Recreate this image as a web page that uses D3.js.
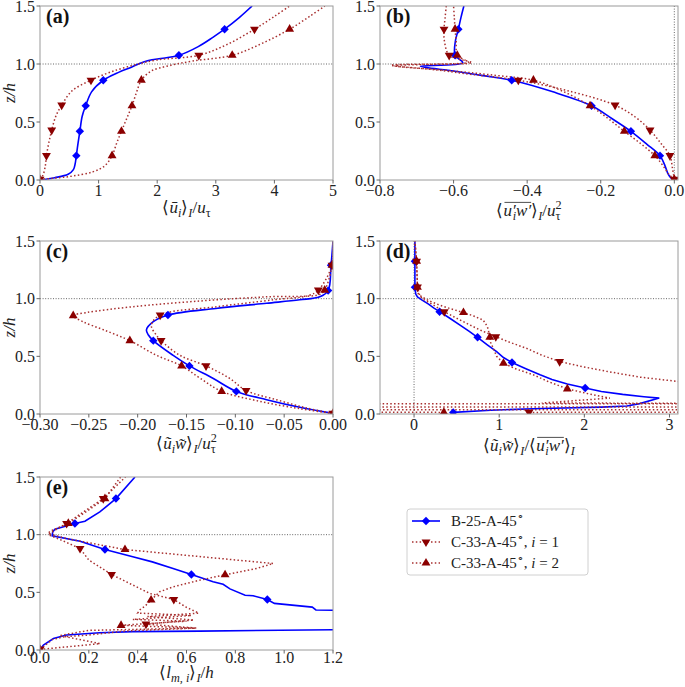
<!DOCTYPE html>
<html><head><meta charset="utf-8">
<script src="https://cdn.jsdelivr.net/npm/d3@7"></script>
<style>
body{margin:0;background:#fff}
svg{display:block}
</style>
</head><body>
<svg id="chart" width="685" height="687"></svg>
<script>
// ---------------- DATA ([x, z/h, marker?]) ----------------
const aBlue = [[0,0],[0.25,0.02],[0.48,0.05],[0.57,0.09],[0.60,0.14],[0.62,0.21,1],[0.65,0.32],[0.68,0.42,1],[0.72,0.55],[0.78,0.64,1],[0.88,0.76],[1.08,0.86,1],[1.35,0.93],[1.55,0.97],[1.68,1.0],[1.85,1.03],[2.1,1.05],[2.37,1.075,1],[2.7,1.15],[2.95,1.23],[3.15,1.30,1],[3.4,1.4],[3.62,1.5]];
const aRed1 = [[0,0.005,1],[0.05,0.04],[0.09,0.12],[0.11,0.21,1],[0.15,0.32],[0.2,0.43,1],[0.27,0.55],[0.37,0.645,1],[0.55,0.77],[0.87,0.86,1],[1.2,0.93],[1.6,0.99],[2.0,1.035],[2.71,1.075,1],[3.2,1.17],[3.66,1.30,1],[4.0,1.41],[4.26,1.5]];
const aRed2 = [[0,0.005,1],[0.5,0.03],[0.9,0.07],[1.1,0.12],[1.23,0.21,1],[1.31,0.32],[1.39,0.42,1],[1.48,0.53],[1.57,0.64,1],[1.65,0.76],[1.73,0.86,1],[1.9,0.94],[2.2,0.985],[2.6,1.025],[3.28,1.075,1],[3.8,1.18],[4.26,1.30,1],[4.6,1.41],[4.86,1.5]];

const bBlue = [[0,0],[-0.01,0.02],[-0.018,0.06],[-0.025,0.12],[-0.039,0.21,1],[-0.075,0.31],[-0.118,0.42,1],[-0.17,0.53],[-0.225,0.64,1],[-0.33,0.76],[-0.442,0.86,1],[-0.52,0.9],[-0.6,0.94],[-0.69,0.98],[-0.575,1.01],[-0.596,1.075,1],[-0.595,1.2],[-0.587,1.30,1],[-0.58,1.4],[-0.572,1.5]];
const bRed1 = [[0,0.005,1],[-0.005,0.1],[-0.012,0.21,1],[-0.035,0.31],[-0.066,0.43,1],[-0.105,0.54],[-0.161,0.645,1],[-0.29,0.77],[-0.424,0.86,1],[-0.55,0.91],[-0.65,0.95],[-0.76,0.985],[-0.55,1.012],[-0.575,1.035],[-0.612,1.075,1],[-0.625,1.2],[-0.626,1.3,1],[-0.623,1.4],[-0.62,1.5]];
const bRed2 = [[0,0.005,1],[-0.015,0.05],[-0.03,0.12],[-0.053,0.21,1],[-0.09,0.31],[-0.136,0.42,1],[-0.18,0.53],[-0.229,0.64,1],[-0.3,0.76],[-0.383,0.86,1],[-0.48,0.9],[-0.6,0.94],[-0.77,0.99],[-0.56,1.015],[-0.57,1.035],[-0.59,1.075,1],[-0.593,1.2],[-0.596,1.3,1],[-0.598,1.4],[-0.6,1.5]];

const cBlue = [[0,0.005],[-0.034,0.058],[-0.068,0.124],[-0.099,0.196,1],[-0.123,0.31],[-0.147,0.417,1],[-0.164,0.51],[-0.184,0.636,1],[-0.189,0.685],[-0.191,0.73],[-0.184,0.80],[-0.169,0.858,1],[-0.12,0.915],[-0.068,0.96],[-0.034,0.99],[-0.0136,1.016],[-0.005,1.07,1],[-0.002,1.29,1],[0,1.5]];
const cRed1 = [[0,0.005,1],[-0.027,0.052],[-0.058,0.124],[-0.089,0.204,1],[-0.106,0.31],[-0.13,0.417,1],[-0.157,0.51],[-0.176,0.636,1],[-0.181,0.685],[-0.186,0.77],[-0.177,0.858,1],[-0.119,0.93],[-0.061,0.99],[-0.024,1.03],[-0.015,1.074,1],[-0.001,1.29,1],[0,1.5]];
const cRed2 = [[0,0.005,1],[-0.034,0.046],[-0.075,0.11],[-0.114,0.196,1],[-0.136,0.31],[-0.155,0.417,1],[-0.181,0.51],[-0.208,0.636,1],[-0.235,0.73],[-0.256,0.80],[-0.266,0.852,1],[-0.252,0.88],[-0.205,0.93],[-0.136,0.98],[-0.068,1.016],[-0.0136,1.037],[-0.0085,1.074,1],[-0.001,1.29,1],[0,1.5]];

const dBlue = [[0.46,0.014,1],[0.9,0.033],[1.5,0.048],[2.2,0.06],[2.5,0.07],[2.65,0.09],[2.88,0.138],[2.7,0.15],[2.45,0.17],[2.2,0.195],[2.01,0.225,1],[1.8,0.26],[1.62,0.3],[1.48,0.34],[1.32,0.39],[1.15,0.446,1],[1.05,0.49],[0.97,0.54],[0.86,0.6],[0.746,0.665,1],[0.64,0.72],[0.54,0.77],[0.42,0.83],[0.30,0.887,1],[0.23,0.92],[0.17,0.953],[0.09,0.99],[0.04,1.016],[0.02,1.04],[0.01,1.10,1],[0.01,1.325,1],[0.01,1.5]];
const dRed1 = [[1.35,0.014,1],[40,0.036],[-40,0.037],[-40,0.088],[40,0.089],[6,0.2],[3.12,0.28],[2.65,0.32],[2.26,0.37],[1.95,0.415],[1.71,0.455,1],[1.5,0.51],[1.32,0.57],[1.13,0.62],[0.96,0.67,1],[0.8,0.72],[0.66,0.77],[0.5,0.83],[0.355,0.887,1],[0.23,0.944],[0.12,0.99],[0.07,1.02],[0.04,1.10,1],[0.03,1.325,1],[0.01,1.5]];
const dRed2 = [[0.35,0.014,1],[-40,0.06],[40,0.061],[1.5,0.095],[2.3,0.138],[2.05,0.175],[1.80,0.218,1],[1.58,0.28],[1.40,0.34],[1.2,0.39],[1.05,0.44,1],[0.97,0.5],[0.93,0.57],[0.9,0.62],[0.89,0.665,1],[0.88,0.7],[0.87,0.74],[0.84,0.785],[0.81,0.815],[0.7,0.85],[0.58,0.88,1],[0.44,0.91],[0.30,0.944],[0.18,0.98],[0.09,1.016],[0.05,1.04],[0.04,1.10,1],[0.03,1.325,1],[0.01,1.5]];

const eBlue = [[0,0],[0.014,0.043],[0.055,0.1],[0.109,0.13],[0.245,0.15],[0.38,0.159],[0.654,0.164],[1.2,0.175],[1.5,0.18],[1.5,0.3],[1.2,0.345],[1.13,0.347],[1.115,0.372],[0.96,0.404],[0.931,0.438,1],[0.873,0.47],[0.84,0.475],[0.778,0.53],[0.75,0.57],[0.709,0.591],[0.62,0.655,1],[0.545,0.707],[0.46,0.764],[0.38,0.808],[0.266,0.871,1],[0.164,0.943],[0.05,0.99],[0.052,1.024],[0.061,1.047],[0.143,1.097,1],[0.184,1.116],[0.245,1.197],[0.311,1.313,1],[0.389,1.5]];
const eRed1 = [[0,0.005,1],[0.246,0.055],[0.08,0.125],[0.2,0.17],[0.64,0.19],[0.434,0.225,1],[0.63,0.26],[0.44,0.29],[0.65,0.32],[0.6,0.37],[0.548,0.438,1],[0.45,0.49],[0.293,0.655,1],[0.2,0.78],[0.164,0.88,1],[0.08,0.96],[0.034,1.0],[0.07,1.05],[0.109,1.097,1],[0.18,1.2],[0.259,1.313,1],[0.35,1.5]];
const eRed2 = [[0,0.005,1],[0.05,0.09],[0.1,0.115],[0.2,0.13],[0.35,0.165],[0.64,0.19],[0.332,0.214,1],[0.6,0.25],[0.38,0.265],[0.62,0.3],[0.4,0.32],[0.41,0.35],[0.43,0.38],[0.455,0.433,1],[0.49,0.505],[0.546,0.548],[0.655,0.606],[0.758,0.652,1],[0.887,0.707],[0.955,0.75],[0.348,0.871,1],[0.109,0.966],[0.034,1.01],[0.041,1.03],[0.116,1.097,1],[0.19,1.2],[0.266,1.313,1],[0.33,1.5]];

// ticks
const zTicks = [0, 0.5, 1.0, 1.5];
const zTickLabels = ["0.0","0.5","1.0","1.5"];
const aXTicks = [0,1,2,3,4,5], aXLabels = ["0","1","2","3","4","5"];
const bXTicks = [-0.8,-0.6,-0.4,-0.2,0.0], bXLabels = ["\u22120.8","\u22120.6","\u22120.4","\u22120.2","0.0"];
const cXTicks = [-0.30,-0.25,-0.20,-0.15,-0.10,-0.05,0.00], cXLabels = ["\u22120.30","\u22120.25","\u22120.20","\u22120.15","\u22120.10","\u22120.05","0.00"];
const dXTicks = [0,1,2,3], dXLabels = ["0","1","2","3"];
const eXTicks = [0,0.2,0.4,0.6,0.8,1.0,1.2], eXLabels = ["0.0","0.2","0.4","0.6","0.8","1.0","1.2"];

const seriesNames = ["B-25-A-45", "C-33-A-45", "C-33-A-45"];

// ---------------- STYLE ----------------
const FONT = '"Liberation Serif"';
const BLUE = "#0000ff", REDLINE = "#a83030", REDMARK = "#8b0000";
const TICKFS = 16, LABFS = 17;
const svg = d3.select("#chart");
const defs = svg.append("defs");

const panels = [
  {id:"a", L:40, R:333, T:6, B:180, xd:[0,5], xt:aXTicks, xl:aXLabels, data:[aBlue,aRed1,aRed2], ylab:true, vzero:false, curve:"cr",
   lab:[{t:"\u27E8"},{t:"\u016B",it:1},{t:"i",it:1,sub:1},{t:"\u27E9"},{t:"I",it:1,sub:1},{t:"/"},{t:"u",it:1},{t:"\u03C4",sub:1}], labDy:33, tickDy:16},
  {id:"b", L:380, R:678, T:6, B:180, xd:[-0.8,0.01], xt:bXTicks, xl:bXLabels, data:[bBlue,bRed1,bRed2], ylab:false, vzero:true, curve:"cr",
   lab:[{t:"\u27E8"},{t:"u\u2032",it:1,ov:1},{t:"i",it:1,sub:1,ov:1,dx:-3},{t:"w\u2032",it:1,ov:1},{t:"\u27E9"},{t:"I",it:1,sub:1},{t:"/"},{t:"u",it:1},{t:"\u03C4",sub:1},{t:"2",sup:1,dx:-5}], labDy:36, tickDy:16},
  {id:"c", L:40, R:333, T:241, B:414, xd:[-0.30,0.0], xt:cXTicks, xl:cXLabels, data:[cBlue,cRed1,cRed2], ylab:true, vzero:false, curve:"cr",
   lab:[{t:"\u27E8"},{t:"\u0169",it:1},{t:"i",it:1,sub:1},{t:"w\u0303",it:1},{t:"\u27E9"},{t:"I",it:1,sub:1},{t:"/"},{t:"u",it:1},{t:"\u03C4",sub:1},{t:"2",sup:1,dx:-5}], labDy:35, tickDy:16},
  {id:"d", L:380, R:678, T:241, B:414, xd:[-0.4,3.1], xt:dXTicks, xl:dXLabels, data:[dBlue,dRed1,dRed2], ylab:false, vzero:true, curve:"lin",
   lab:[{t:"\u27E8"},{t:"\u0169",it:1},{t:"i",it:1,sub:1},{t:"w\u0303",it:1},{t:"\u27E9"},{t:"I",it:1,sub:1},{t:"/\u27E8"},{t:"u\u2032",it:1,ov:1},{t:"i",it:1,sub:1,ov:1,dx:-3},{t:"w\u2032",it:1,ov:1},{t:"\u27E9"},{t:"I",it:1,sub:1}], labDy:37, tickDy:16},
  {id:"e", L:40, R:333, T:477, B:650, xd:[0,1.2], xt:eXTicks, xl:eXLabels, data:[eBlue,eRed1,eRed2], ylab:true, vzero:false, curve:"lin",
   lab:[{t:"\u27E8"},{t:"l",it:1},{t:"m, i",it:1,sub:1},{t:"\u27E9"},{t:"I",it:1,sub:1},{t:"/"},{t:"h",it:1}], labDy:28, tickDy:13}
];

function mathText(g, x, y, segs, fs, anchor){
  const t = g.append("text").attr("x",x).attr("y",y).attr("text-anchor",anchor||"middle")
    .style("font-family",FONT).attr("font-size",fs).attr("fill","#222");
  let cur = 0, idx = 0; const ov = [];
  segs.forEach(s=>{
    const small = s.sub || s.sup;
    const sz = small ? fs*0.72 : fs;
    const target = s.sub ? fs*0.25 : s.sup ? -fs*0.4 : 0;
    const ts = t.append("tspan").text(s.t).attr("font-size",sz).attr("dy",target-cur).style("font-family",FONT);
    if (s.dx) ts.attr("dx",s.dx);
    if (s.it) ts.style("font-style","italic");
    cur = target;
    if (s.ov) for (let k=0;k<s.t.length;k++) ov.push(idx+k);
    idx += s.t.length;
  });
  if (ov.length){
    let mn=1e9, mx=-1e9;
    ov.forEach(i=>{ const e=t.node().getExtentOfChar(i); mn=Math.min(mn,e.x); mx=Math.max(mx,e.x+e.width); });
    g.append("line").attr("x1",mn+1).attr("x2",mx).attr("y1",y-fs*0.8).attr("y2",y-fs*0.8)
      .attr("stroke","#222").attr("stroke-width",0.8);
  }
  return t;
}

function drawMarkers(g, pts, x, y, kind){
  const m = pts.filter(d=>d[2]);
  if (kind===0){
    const s = 4.2;
    g.selectAll(null).data(m).enter().append("path")
      .attr("d", d=>{const cx=x(d[0]), cy=y(d[1]); return `M${cx},${cy-s}L${cx+s},${cy}L${cx},${cy+s}L${cx-s},${cy}Z`;})
      .attr("fill",BLUE);
  } else {
    const sym = d3.symbol(d3.symbolTriangle, 34);
    g.selectAll(null).data(m).enter().append("path")
      .attr("d", sym)
      .attr("transform", d=>`translate(${x(d[0])},${y(d[1])})` + (kind===1 ? " rotate(180)" : ""))
      .attr("fill",REDMARK);
  }
}

panels.forEach(p=>{
  const x = d3.scaleLinear().domain(p.xd).range([p.L,p.R]);
  const y = d3.scaleLinear().domain([0,1.5]).range([p.B,p.T]);
  const g = svg.append("g");
  defs.append("clipPath").attr("id","clip"+p.id).append("rect")
    .attr("x",p.L).attr("y",p.T).attr("width",p.R-p.L).attr("height",p.B-p.T);

  const ref = g.append("g").attr("clip-path",`url(#clip${p.id})`);
  ref.append("line").attr("x1",p.L).attr("x2",p.R).attr("y1",y(1)).attr("y2",y(1))
    .attr("stroke","#555").attr("stroke-width",0.9).attr("stroke-dasharray","1,1.6");
  if (p.vzero) ref.append("line").attr("x1",x(0)).attr("x2",x(0)).attr("y1",p.T).attr("y2",p.B)
    .attr("stroke","#555").attr("stroke-width",0.9).attr("stroke-dasharray","1,1.6");

  const plot = g.append("g").attr("clip-path",`url(#clip${p.id})`);
  const line = d3.line().x(d=>x(d[0])).y(d=>y(d[1]))
    .curve(p.curve==="cr" ? d3.curveCatmullRom.alpha(0.5) : d3.curveLinear);
  p.data.forEach((s,i)=>{
    plot.append("path").datum(s).attr("d",line).attr("fill","none")
      .attr("stroke", i===0 ? BLUE : REDLINE)
      .attr("stroke-width", i===0 ? 1.6 : 1.5)
      .attr("stroke-dasharray", i===0 ? null : "1.5,2.3");
  });
  p.data.forEach((s,i)=> drawMarkers(plot, s, x, y, i));

  g.append("rect").attr("x",p.L).attr("y",p.T).attr("width",p.R-p.L).attr("height",p.B-p.T)
    .attr("fill","none").attr("stroke","#9a9a9a").attr("stroke-width",1);

  p.xt.forEach((v,i)=>{
    g.append("line").attr("x1",x(v)).attr("x2",x(v)).attr("y1",p.B).attr("y2",p.B+3.5).attr("stroke","#666");
    g.append("text").attr("x",x(v)).attr("y",p.B+p.tickDy).attr("text-anchor","middle")
      .style("font-family",FONT).attr("font-size",TICKFS).attr("fill","#222").text(p.xl[i]);
  });
  zTicks.forEach((v,i)=>{
    g.append("line").attr("x1",p.L-3.5).attr("x2",p.L).attr("y1",y(v)).attr("y2",y(v)).attr("stroke","#666");
    g.append("text").attr("x",p.L-5).attr("y",y(v)+5.5).attr("text-anchor","end")
      .style("font-family",FONT).attr("font-size",TICKFS).attr("fill","#222").text(zTickLabels[i]);
  });

  g.append("text").attr("x",p.L+6).attr("y",p.T+17).style("font-family",FONT).attr("font-size",20).attr("font-weight","bold")
    .attr("fill","#111").text(`(${p.id})`);

  mathText(g, (p.L+p.R)/2, p.B+p.labDy, p.lab, LABFS);
  if (p.ylab){
    g.append("text").attr("transform",`translate(15,${(p.T+p.B)/2}) rotate(-90)`)
      .attr("text-anchor","middle").style("font-family",FONT).attr("font-size",LABFS).style("font-style","italic").attr("fill","#222").text("z/h");
  }
});

// ---------------- LEGEND ----------------
const lg = svg.append("g");
lg.append("rect").attr("x",407).attr("y",509).attr("width",181).attr("height",66).attr("rx",3)
  .attr("fill","#fff").attr("stroke","#d0d0d0");
const rows = [521, 542, 563];
const legLabels = [
  [{t:seriesNames[0]},{t:"\u2218",sup:1}],
  [{t:seriesNames[1]},{t:"\u2218",sup:1},{t:", "},{t:"i",it:1},{t:" = 1"}],
  [{t:seriesNames[2]},{t:"\u2218",sup:1},{t:", "},{t:"i",it:1},{t:" = 2"}]
];
rows.forEach((ry,i)=>{
  lg.append("line").attr("x1",412).attr("x2",440).attr("y1",ry).attr("y2",ry)
    .attr("stroke", i===0?BLUE:REDLINE).attr("stroke-width", i===0?1.6:1.5)
    .attr("stroke-dasharray", i===0?null:"1.5,2.3");
  const x = d3.scaleLinear().domain([0,1]).range([426,427]);
  const y = d3.scaleLinear().domain([0,1]).range([ry,ry+1]);
  drawMarkers(lg, [[0,0,1]], x, y, i);
  mathText(lg, 451, ry+5, legLabels[i], 15, "start");
});
</script>
</body></html>
